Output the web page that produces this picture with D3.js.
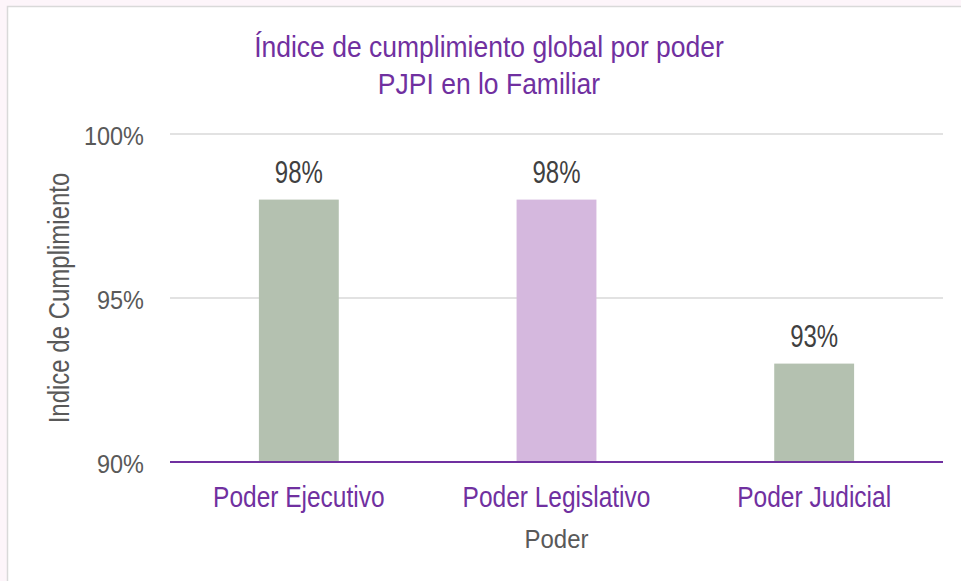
<!DOCTYPE html>
<html>
<head>
<meta charset="utf-8">
<script src="https://cdn.jsdelivr.net/npm/d3@7"></script>
<style>
  body { margin: 0; background: #fdf5fa; }
  svg text { font-family: "Liberation Sans", Arial, sans-serif; }
</style>
</head>
<body>
<div id="chart"></div>
<script>
const categories = ["Poder Ejecutivo", "Poder Legislativo", "Poder Judicial"];
const values = [0.98, 0.98, 0.93];
const barColors = ["#b4c1b0", "#d5b8de", "#b4c1b0"];
const yTicks = [0.90, 0.95, 1.00];

const width = 961, height = 581;
const margin = { top: 134, right: 18, bottom: 119, left: 170 };

const svg = d3.select("#chart").append("svg")
  .attr("width", width)
  .attr("height", height);

// chart box
svg.append("rect")
  .attr("x", 7.5).attr("y", 6.5)
  .attr("width", width).attr("height", height)
  .attr("fill", "#fff")
  .attr("stroke", "#d9d9d9")
  .attr("stroke-width", 1.5);

const x = d3.scaleBand()
  .domain(categories)
  .range([margin.left, width - margin.right])
  .paddingInner(0.69)
  .paddingOuter(0.345);

const y = d3.scaleLinear()
  .domain([0.90, 1.00])
  .range([height - margin.bottom, margin.top]);

// the original text is a bit taller than Liberation Sans, stretch it vertically
function place(sel, fx, fy, sy) {
  sel.attr("transform", (d, i) => `translate(${fx(d, i)},${fy(d, i)}) scale(1,${sy})`);
}

// gridlines
svg.append("g")
  .selectAll("line")
  .data(yTicks.slice(1))
  .join("line")
  .attr("x1", margin.left)
  .attr("x2", width - margin.right)
  .attr("y1", d => y(d))
  .attr("y2", d => y(d))
  .attr("stroke", "#d9d9d9")
  .attr("stroke-width", 1.5);

// y tick labels
svg.append("g")
  .selectAll("text")
  .data(yTicks)
  .join("text")
  .call(place, () => margin.left - 26, d => y(d) + 11, 1.12)
  .attr("text-anchor", "end")
  .attr("fill", "#595959")
  .attr("font-size", 23.5)
  .text(d => d3.format(".0%")(d));

// bars
svg.append("g")
  .selectAll("rect")
  .data(values)
  .join("rect")
  .attr("x", (d, i) => x(categories[i]))
  .attr("width", x.bandwidth())
  .attr("y", d => y(d))
  .attr("height", d => y(0.90) - y(d))
  .attr("fill", (d, i) => barColors[i]);

// data labels
svg.append("g")
  .selectAll("text")
  .data(values)
  .join("text")
  .call(place, (d, i) => x(categories[i]) + x.bandwidth() / 2, d => y(d) - 17, 1.3)
  .attr("text-anchor", "middle")
  .attr("fill", "#404040")
  .attr("font-size", 24)
  .text(d => d3.format(".0%")(d));

// x axis line
svg.append("line")
  .attr("x1", margin.left)
  .attr("x2", width - margin.right)
  .attr("y1", y(0.90))
  .attr("y2", y(0.90))
  .attr("stroke", "#7030a0")
  .attr("stroke-width", 2);

// category labels
svg.append("g")
  .selectAll("text")
  .data(categories)
  .join("text")
  .call(place, d => x(d) + x.bandwidth() / 2, () => y(0.90) + 45, 1.2)
  .attr("text-anchor", "middle")
  .attr("fill", "#7030a0")
  .attr("font-size", 24.5)
  .text(d => d);

// axis titles
svg.append("text")
  .attr("transform", `translate(${x(categories[1]) + x.bandwidth() / 2},548) scale(1,1.1)`)
  .attr("text-anchor", "middle")
  .attr("fill", "#595959")
  .attr("font-size", 24)
  .text("Poder");

svg.append("text")
  .attr("transform", `translate(69, ${y(0.95)}) rotate(-90) scale(1,1.2)`)
  .attr("text-anchor", "middle")
  .attr("fill", "#595959")
  .attr("font-size", 24)
  .text("Indice de Cumplimiento");

// title
const titleLines = ["Índice de cumplimiento global por poder", "PJPI en lo Familiar"];
svg.append("g")
  .selectAll("text")
  .data(titleLines)
  .join("text")
  .call(place, () => 489, (d, i) => 57 + i * 37, 1.1)
  .attr("text-anchor", "middle")
  .attr("fill", "#7030a0")
  .attr("font-size", 26.5)
  .text(d => d);
</script>
</body>
</html>
